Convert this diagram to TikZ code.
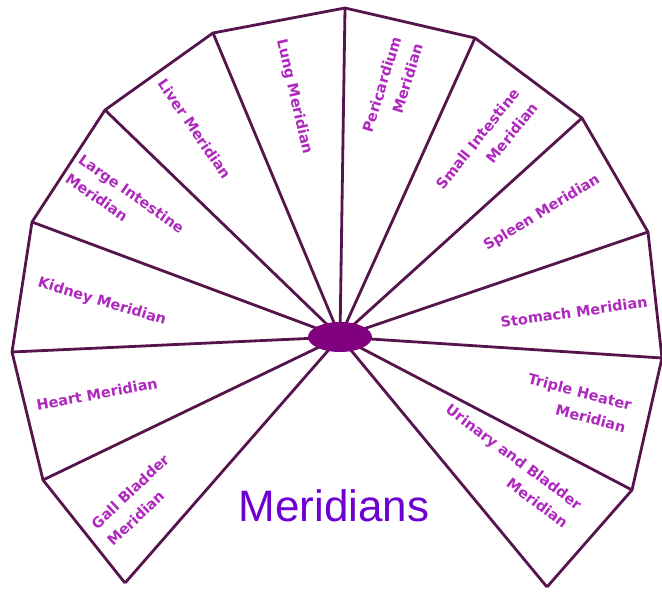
\documentclass[tikz,border=0pt]{standalone}
\usepackage{fontspec}
\setmainfont{Liberation Sans}
\newfontfamily\labelfont{DejaVu Sans}
\usepackage{xcolor}
\usetikzlibrary{shapes.geometric}
\definecolor{merline}{RGB}{85,20,75}
\definecolor{mertext}{RGB}{175,40,190}
\definecolor{merhub}{RGB}{128,0,128}
\definecolor{mertitle}{RGB}{110,0,210}

\begin{document}
\begin{tikzpicture}[
    x=1pt, y=1pt,
    rim/.style={draw=merline, line width=2.8pt, line join=miter},
    spoke/.style={draw=merline, line width=2.8pt},
    hub/.style={ellipse, fill=merhub, minimum width=64pt,
                minimum height=30pt, inner sep=0pt},
    merlabel/.style={font=\labelfont\bfseries\fontsize{14.5}{23}\selectfont,
                     text=mertext, inner sep=0pt},
  ]
  \useasboundingbox (0,0) rectangle (662,592);

  % --- outer corners of the fan ---
  \foreach \name/\x/\y in {c0/125/9, c1/43/112, c2/12/240, c3/32/370,
                           c4/105/482, c5/213/559, c6/345/584, c7/475/554,
                           c8/582/474, c9/648/360, c10/662/234,
                           c11/632/102, c12/547/5}
    \coordinate (\name) at (\x,\y);
  \coordinate (hubc) at (340,255);

  % --- spokes and rim ---
  \foreach \i in {0,...,12}
    \draw[spoke] (hubc) -- (c\i);
  \draw[rim] (c0) \foreach \i in {1,...,12} {-- (c\i)};
  \node[hub] (hub) at (hubc) {};

  % --- left half ---
  \node[merlabel, rotate=-77] (lung) at (294,495) {Lung Meridian};
  \node[merlabel, rotate=-55.5] (liver) at (195,463) {Liver Meridian};
  \node[merlabel, rotate=-35, align=left] (largeint) at (125,389)
    {Large Intestine\\Meridian};
  \node[merlabel, rotate=-16.7] (kidney) at (102,290) {Kidney Meridian};
  \node[merlabel, rotate=10.4] (heart) at (97,198) {Heart Meridian};
  \node[merlabel, rotate=43.4, align=left] (gall) at (138,92)
    {Gall Bladder\\Meridian};

  % --- right half ---
  \node[merlabel, rotate=73, align=right] (peri) at (393,504)
    {Pericardium\\Meridian};
  \node[merlabel, rotate=51.6, align=right] (smallint) at (487,446)
    {Small Intestine\\Meridian};
  \node[merlabel, rotate=31.3] (spleen) at (542,379) {Spleen Meridian};
  \node[merlabel, rotate=8] (stomach) at (574,280) {Stomach Meridian};
  \node[merlabel, rotate=-14.6, align=right] (triple) at (577,189)
    {Triple Heater\\Meridian};
  \node[merlabel, rotate=-36.7, align=right] (urinary) at (507,126)
    {Urinary and Bladder\\Meridian};

  % --- title ---
  \node[font=\fontsize{44}{50}\selectfont, text=mertitle, anchor=base]
    (title) at (334,70) {Meridians};
\end{tikzpicture}
\end{document}
